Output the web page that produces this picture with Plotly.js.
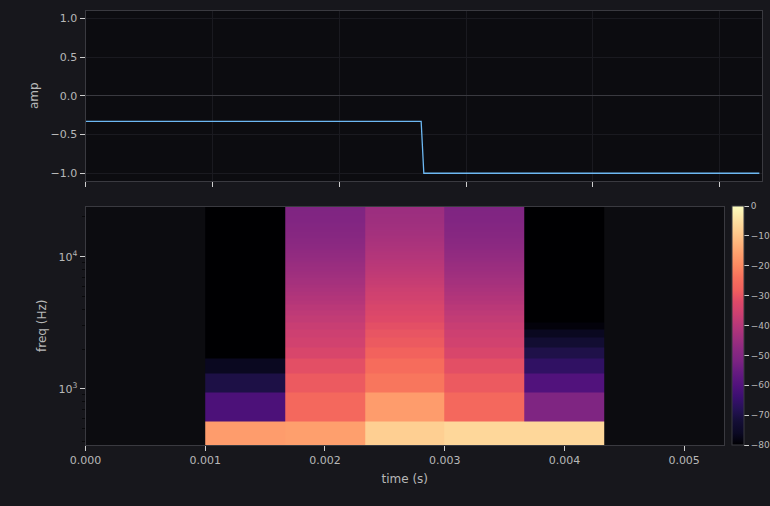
<!DOCTYPE html>
<html>
<head>
<meta charset="utf-8">
<script src="https://cdn.plot.ly/plotly-3.0.1.min.js"></script>
<style>html,body{margin:0;padding:0;background:#17171c;overflow:hidden}#c{width:770px;height:506px}</style>
</head>
<body>
<div id="c"></div>
<script>
var waveTime = [0, 0.002646, 0.002667, 0.005312];
var waveAmp = [-0.33, -0.33, -1, -1];

var timeEdges = [0.001, 0.001667, 0.002333, 0.003, 0.003667, 0.004333];
var freqEdges = [375, 562.5, 937.5, 1312.5, 1687.5, 2062.5, 2437.5, 2812.5, 3187.5, 3562.5, 3937.5, 4312.5, 4687.5, 5062.5, 5437.5, 5812.5, 6187.5, 6562.5, 6937.5, 7312.5, 7687.5, 8062.5, 8437.5, 8812.5, 9187.5, 9562.5, 9937.5, 10312.5, 10687.5, 11062.5, 11437.5, 11812.5, 12187.5, 12562.5, 12937.5, 13312.5, 13687.5, 14062.5, 14437.5, 14812.5, 15187.5, 15562.5, 15937.5, 16312.5, 16687.5, 17062.5, 17437.5, 17812.5, 18187.5, 18562.5, 18937.5, 19312.5, 19687.5, 20062.5, 20437.5, 20812.5, 21187.5, 21562.5, 21937.5, 22312.5, 22687.5, 23062.5, 23437.5, 23812.5, 24000];

var col1 = [-16.5, -61, -70, -76.5, -80, -80, -80, -80, -80, -80, -80, -80, -80, -80, -80, -80, -80, -80, -80, -80, -80, -80, -80, -80, -80, -80, -80, -80, -80, -80, -80, -80, -80, -80, -80, -80, -80, -80, -80, -80, -80, -80, -80, -80, -80, -80, -80, -80, -80, -80, -80, -80, -80, -80, -80, -80, -80, -80, -80, -80, -80, -80, -80, -80];
var col2 = [-16, -26, -29, -31, -33.5, -35, -36, -37, -38, -38.8, -39.5, -40.3, -41, -41.6, -42.1, -42.7, -43.2, -43.6, -44.1, -44.5, -44.9, -45.2, -45.6, -45.9, -46.2, -46.5, -46.8, -47, -47.3, -47.5, -47.8, -48, -48.2, -48.4, -48.6, -48.8, -48.9, -49.1, -49.3, -49.4, -49.5, -49.7, -49.8, -49.9, -50, -50.1, -50.2, -50.3, -50.4, -50.5, -50.5, -50.6, -50.7, -50.7, -50.8, -50.8, -50.9, -50.9, -50.9, -51, -51, -51, -51, -51];
var col3 = [-8, -16.5, -23, -25, -27.5, -29, -30, -31, -32, -32.8, -33.5, -34.3, -35, -35.6, -36.1, -36.7, -37.2, -37.6, -38.1, -38.5, -38.9, -39.2, -39.6, -39.9, -40.2, -40.5, -40.8, -41, -41.3, -41.5, -41.8, -42, -42.2, -42.4, -42.6, -42.8, -42.9, -43.1, -43.3, -43.4, -43.5, -43.7, -43.8, -43.9, -44, -44.1, -44.2, -44.3, -44.4, -44.5, -44.5, -44.6, -44.7, -44.7, -44.8, -44.8, -44.9, -44.9, -44.9, -45, -45, -45, -45, -45];
var col4 = [-6.5, -26, -29, -31, -33.5, -35, -36, -37, -38, -38.8, -39.5, -40.3, -41, -41.6, -42.1, -42.7, -43.2, -43.6, -44.1, -44.5, -44.9, -45.2, -45.6, -45.9, -46.2, -46.5, -46.8, -47, -47.3, -47.5, -47.8, -48, -48.2, -48.4, -48.6, -48.8, -48.9, -49.1, -49.3, -49.4, -49.5, -49.7, -49.8, -49.9, -50, -50.1, -50.2, -50.3, -50.4, -50.5, -50.5, -50.6, -50.7, -50.7, -50.8, -50.8, -50.9, -50.9, -50.9, -51, -51, -51, -51, -51];
var col5 = [-6.5, -51, -60, -66, -69.5, -73, -76.5, -79, -80, -80, -80, -80, -80, -80, -80, -80, -80, -80, -80, -80, -80, -80, -80, -80, -80, -80, -80, -80, -80, -80, -80, -80, -80, -80, -80, -80, -80, -80, -80, -80, -80, -80, -80, -80, -80, -80, -80, -80, -80, -80, -80, -80, -80, -80, -80, -80, -80, -80, -80, -80, -80, -80, -80, -80];

var colorbarTicks = [0, -10, -20, -30, -40, -50, -60, -70, -80];
var majorFreqTicks = [1000, 10000];
var majorFreqLabels = ['10<sup>3</sup>', '10<sup>4</sup>'];
var minorFreqTicks = [400, 500, 600, 700, 800, 900, 2000, 3000, 4000, 5000, 6000, 7000, 8000, 9000, 20000];
var magmaStops = ['#000002','#0b0924','#140e36','#251255','#3b0f70','#51127c','#641a80','#7b2382','#8c2981','#a1307e','#b73779','#cd4071','#de4968','#f1605d','#f7705c','#fc8961','#fe9f6d','#feb77e','#fecf92','#fde5a7','#fcfdbf'];

var W = 770, H = 506;
var columns = [col1, col2, col3, col4, col5];
var z = col1.map(function (_, r) { return columns.map(function (c) { return c[r]; }); });
var magma = magmaStops.map(function (c, i) { return [i / (magmaStops.length - 1), c]; });

var frame = '#3a3a40', grid = '#1a1a20', tickC = '#cfcfcf', txt = '#b8b8b8';
var font = {family: 'DejaVu Sans', size: 11, color: txt};

function axis(extra) {
  return Object.assign({
    showline: true, mirror: true, linecolor: frame, linewidth: 1,
    ticks: 'outside', ticklen: 5, tickwidth: 1, tickcolor: tickC,
    showgrid: false, zeroline: false, tickfont: font
  }, extra);
}

var traces = [
  {type: 'scatter', mode: 'lines', x: waveTime, y: waveAmp, xaxis: 'x', yaxis: 'y',
   line: {color: '#6db8f2', width: 1.3}, hoverinfo: 'skip', showlegend: false},
  {type: 'heatmap', x: timeEdges, y: freqEdges, z: z, xaxis: 'x2', yaxis: 'y2',
   zmin: -80, zmax: 0, colorscale: magma, zsmooth: false, hoverinfo: 'skip',
   colorbar: {
     thickness: 12, thicknessmode: 'pixels',
     len: 238.5 / H, lenmode: 'fraction',
     x: 731.5 / W, xanchor: 'left', y: (H - 445) / H, yanchor: 'bottom',
     xpad: 0, ypad: 0, outlinecolor: frame, outlinewidth: 1, borderwidth: 0,
     tickmode: 'array', tickvals: colorbarTicks, tickprefix: '\u00a0\u00a0',
     ticks: 'outside', ticklen: 5, tickcolor: tickC, tickwidth: 1,
     tickfont: {family: 'DejaVu Sans', size: 9, color: txt}
   }}
];

var layout = {
  width: W, height: H,
  paper_bgcolor: '#17171c', plot_bgcolor: '#0c0c10',
  margin: {l: 0, r: 0, t: 0, b: 0, pad: 0, autoexpand: false},
  showlegend: false, font: font,
  xaxis: axis({domain: [85.5 / W, 762 / W], anchor: 'y', range: [0, 0.005333], dtick: 0.001, tick0: 0,
    showticklabels: false, showgrid: true, gridcolor: grid, gridwidth: 1}),
  yaxis: axis({domain: [1 - 181 / H, 1 - 10.5 / H], anchor: 'x', range: [-1.1, 1.1], dtick: 0.5, tick0: -1,
    tickformat: '.1f', showgrid: true, gridcolor: grid, gridwidth: 1,
    zeroline: true, zerolinecolor: frame, zerolinewidth: 1,
    title: {text: 'amp', font: {family: 'DejaVu Sans', size: 12, color: txt}, standoff: 9}}),
  xaxis2: axis({domain: [85.5 / W, 724 / W], anchor: 'y2', range: [0, 0.005333], dtick: 0.001, tick0: 0,
    tickformat: '.3f', title: {text: 'time (s)', font: {family: 'DejaVu Sans', size: 12, color: txt}, standoff: 8}}),
  yaxis2: axis({domain: [1 - 445 / H, 1 - 206.5 / H], anchor: 'x2', type: 'log',
    range: [Math.log10(375), Math.log10(24000)], tickmode: 'array', tickvals: majorFreqTicks, ticktext: majorFreqLabels,
    minor: {ticks: 'outside', ticklen: 3, tickwidth: 1, tickcolor: '#08080a', tickmode: 'array', tickvals: minorFreqTicks},
    title: {text: 'freq (Hz)', font: {family: 'DejaVu Sans', size: 12, color: txt}, standoff: 9}})
};

Plotly.newPlot('c', traces, layout, {displayModeBar: false, responsive: false, staticPlot: true});
</script>
</body>
</html>
